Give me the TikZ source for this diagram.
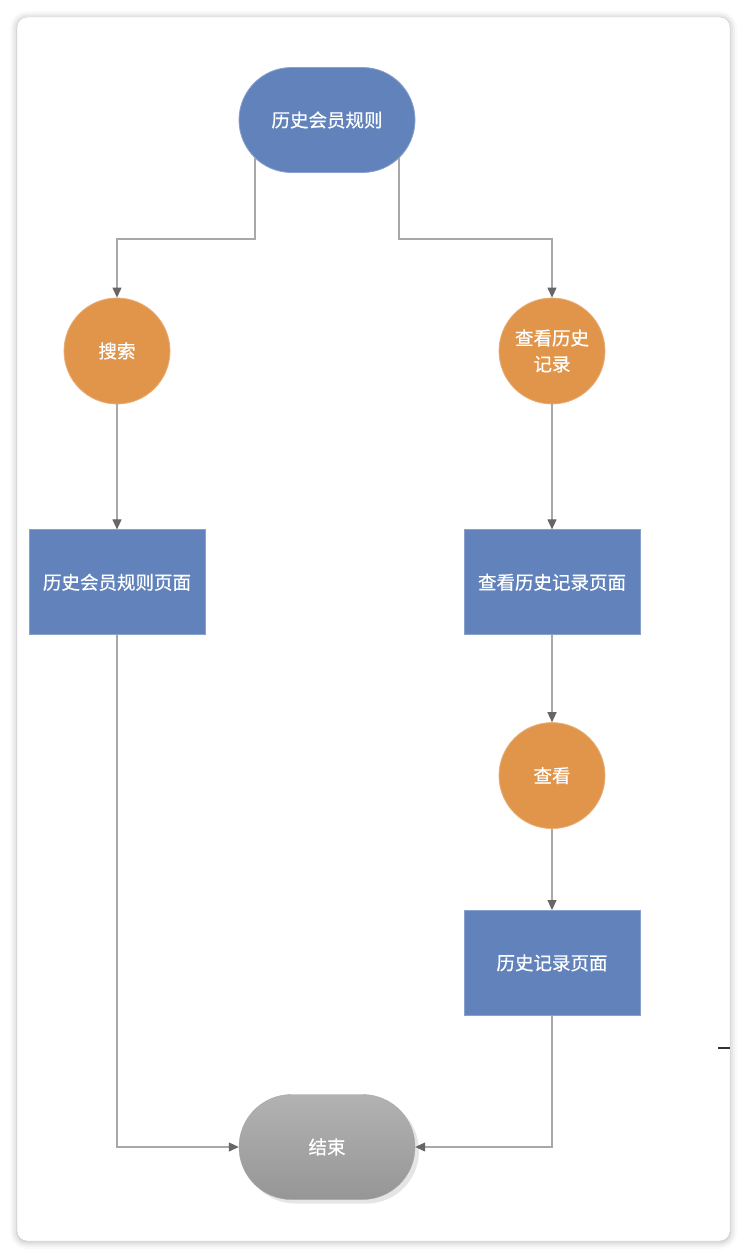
\documentclass[tikz,border=0pt]{standalone}
\usepackage{fontspec}
\newfontfamily\cjk[FakeBold=0.7]{Noto Sans CJK SC}
\usetikzlibrary{shapes.misc,positioning,arrows.meta,shadows,shadows.blur}
\definecolor{nodeblue}{HTML}{6182BB}
\definecolor{nodeorange}{HTML}{E0954B}
\definecolor{linegray}{HTML}{A8A8A8}
\definecolor{tipgray}{HTML}{666666}
\definecolor{framegray}{HTML}{CCCCCC}
\definecolor{endtop}{HTML}{B2B2B2}
\definecolor{endbottom}{HTML}{969696}

\begin{document}
\begin{tikzpicture}[
			x=1pt,y=-1pt,
			node distance=125pt,
			pill/.style={
				rounded rectangle,
				minimum width=176pt,
				minimum height=105pt,
				inner sep=0pt,
				text=white
			},
			pagebox/.style={
				rectangle,
				draw=nodeblue!75!white,
				line width=0.8pt,
				fill=nodeblue,
				minimum width=176pt,
				minimum height=105pt,
				inner sep=0pt,
				text=white
			},
			action/.style={
				circle,
				draw=nodeorange!75!white,
				line width=0.8pt,
				fill=nodeorange,
				minimum size=106pt,
				inner sep=0pt,
				align=center,
				text=white
			},
			link/.style={
				draw=linegray,
				line width=1.1pt,
				-{Triangle[length=10pt,width=9pt,color=tipgray]}
			},
			every node/.style={font=\cjk\fontsize{18.5}{26}\selectfont}
			]
			\useasboundingbox (0,0) rectangle (746,1258);
			% frame of the canvas
			\draw[framegray, fill=white, rounded corners=10pt,
				blur shadow={shadow xshift=0pt, shadow yshift=-1pt, shadow blur radius=7pt, shadow opacity=30}]
				(17,17) rectangle (730,1241);
			
			% start and end
			\node[pill, draw=nodeblue!75!white, line width=0.8pt, fill=nodeblue] (rules) at (327,120) {历史会员规则};
			\node[pill, top color=endtop, bottom color=endbottom, draw=endbottom!85!white,
				drop shadow={fill=black!10, shadow xshift=4pt, shadow yshift=-4pt, opacity=1}] (finish) at (327,1147) {结束};
			
			% left branch
			\node[action] (search) at (117,351) {搜索};
			\node[pagebox, below=of search] (rulepage) {历史会员规则页面};
			
			% right branch
			\node[action] (history) at (552,351) {查看历史\\记录};
			\node[pagebox, below=of history] (histpage) {查看历史记录页面};
			\node[action, below=87pt of histpage] (view) {查看};
			\node[pagebox, below=81pt of view] (recpage) {历史记录页面};
			
			% split points
			\coordinate (splitL) at (117,239);
			\coordinate (splitR) at (552,239);
			
			% connectors
			\draw[link] (rules.208) |- (splitL) -- (search);
			\draw[link] (rules.-28) |- (splitR) -- (history);
			\draw[link] (search) -- (rulepage);
			\draw[link] (history) -- (histpage);
			\draw[link] (histpage) -- (view);
			\draw[link] (view) -- (recpage);
			\draw[link] (rulepage.south) |- (finish.west);
			\draw[link] (recpage.south) |- (finish.east);
			
			% mark at the right edge
			\draw[black!80, line width=1.3pt] (718,1048) -- (730,1048);
		\end{tikzpicture}
\end{document}
